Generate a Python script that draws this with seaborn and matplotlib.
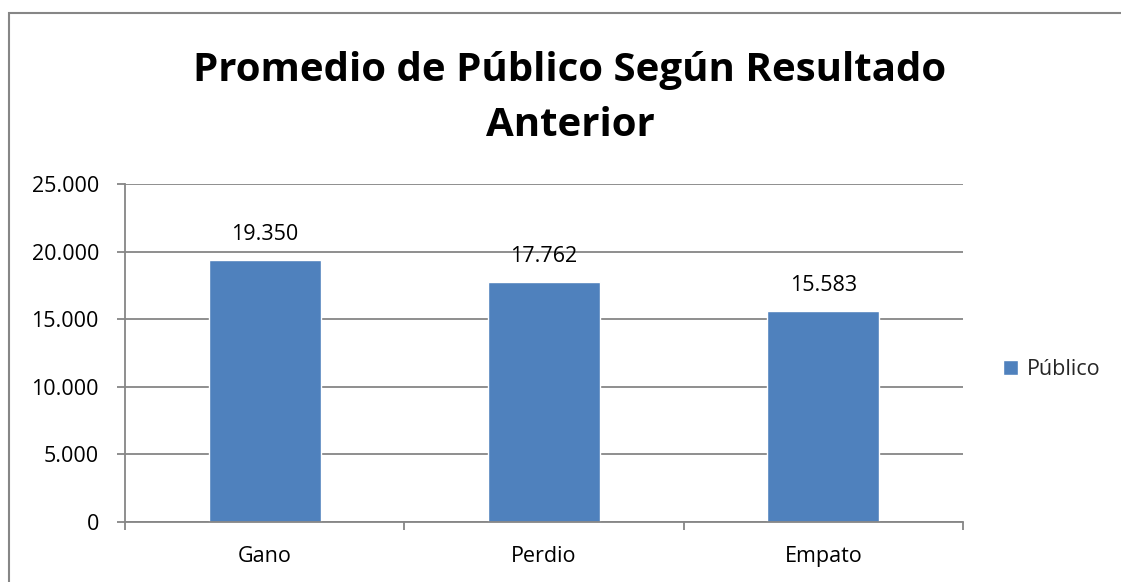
import matplotlib
matplotlib.use("Agg")
import matplotlib.pyplot as plt
import seaborn as sns
import pandas as pd
from matplotlib.patches import Rectangle
from matplotlib.ticker import FuncFormatter, MultipleLocator

categories = ["Gano", "Perdio", "Empato"]
values = [19350, 17762, 15583]
series_name = "Público"
title = "Promedio de Público Según Resultado\nAnterior"

sns.set_theme(style="white")
plt.rcParams['font.family'] = ['Open Sans', 'DejaVu Sans']

W, H = 1121, 582
fig = plt.figure(figsize=(W / 100, H / 100), dpi=100)
ax = fig.add_axes([125 / W, 1 - 522 / H, (963 - 125) / W, (522 - 184) / H])

df = pd.DataFrame({"cat": categories, "val": values})
bar_color = "#4F81BD"
sns.barplot(data=df, x="cat", y="val", color=bar_color, width=0.4,
            saturation=1, ax=ax, label=series_name)

FS = 15.5
ax.set_xlim(-0.5, 2.5)
ax.set_ylim(0, 25000)
ax.yaxis.set_major_locator(MultipleLocator(5000))
ax.yaxis.set_major_formatter(FuncFormatter(lambda v, p: f"{int(v):,}".replace(",", ".")))
ax.set_xlabel("")
ax.set_ylabel("")

grid_c = "#868686"
ax.grid(axis="y", color=grid_c, linewidth=1.3)
ax.set_axisbelow(True)
for s in ["top", "right"]:
    ax.spines[s].set_visible(False)
for s in ["left", "bottom"]:
    ax.spines[s].set_color(grid_c)
    ax.spines[s].set_linewidth(1.3)

ax.set_xticks([0, 1, 2])
ax.set_xticklabels(categories)
ax.tick_params(axis="x", which="major", bottom=True, length=0, labelsize=FS,
               colors="black", pad=17)
ax.tick_params(axis="y", left=True, length=5.8, width=1.3, color=grid_c, labelsize=FS,
               labelcolor="black", pad=13, direction="out")
ax.set_xticks([-0.5, 0.5, 1.5, 2.5], minor=True)
ax.tick_params(axis="x", which="minor", bottom=True, length=5.8, width=1.3,
               color=grid_c, direction="out")

for i, v in enumerate(values):
    ax.annotate(f"{v:,}".replace(",", "."), (i, v), xytext=(0, 11),
                textcoords="offset points", ha="center", va="bottom",
                fontsize=FS, color="black")

fig.text(570 / W, 1 - 98 / H, title, ha="center", va="center",
         fontsize=29, fontweight="bold", color="black", linespacing=1.55)

leg = ax.legend(loc="center left", bbox_to_anchor=(1.025, 0.45), frameon=False,
                fontsize=FS, handlelength=0.7, handleheight=0.7, handletextpad=0.4)

fig.patches.append(Rectangle((9 / W, -0.05), 1.2, 1.05 - 13 / H,
                             transform=fig.transFigure, fill=False,
                             edgecolor="#868686", linewidth=1.5, zorder=10))
fig.savefig("out.png", dpi=100)
